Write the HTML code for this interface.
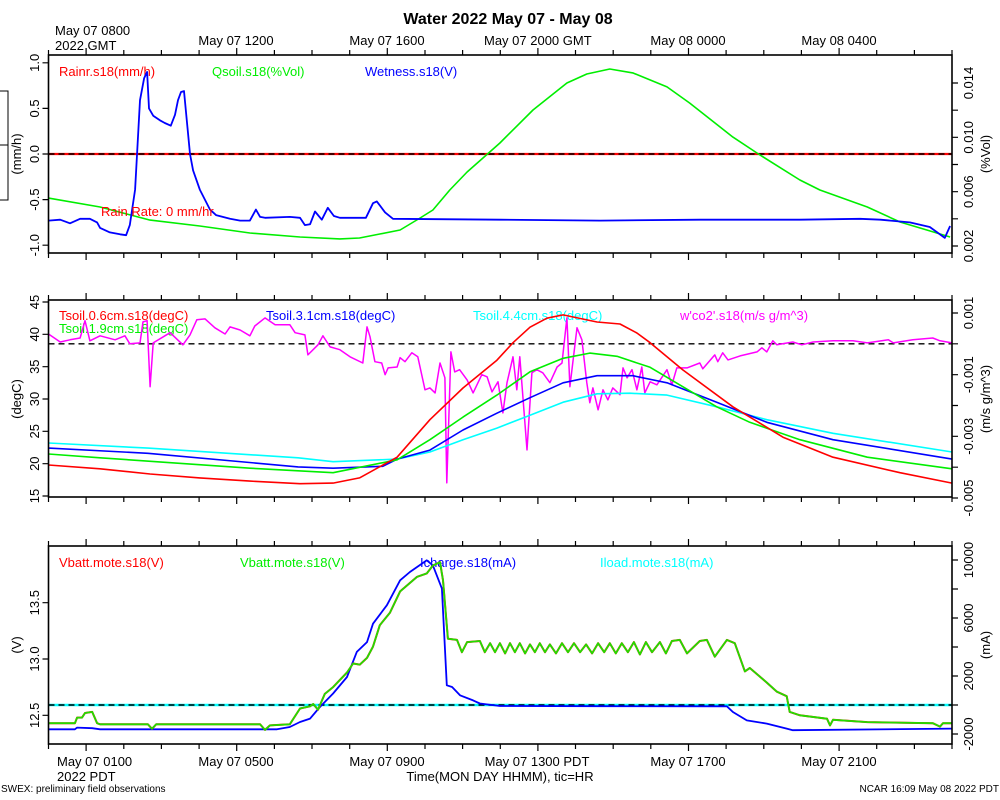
<!DOCTYPE html>
<html><head><meta charset="utf-8"><title>Water 2022 May 07 - May 08</title>
<style>
html,body{margin:0;padding:0;background:#fff;}
svg{display:block;font-family:"Liberation Sans",Arial,sans-serif;}
</style></head>
<body>
<svg id="chart" xmlns="http://www.w3.org/2000/svg" width="1000" height="800" viewBox="0 0 1000 800">
<rect x="0" y="0" width="1000" height="800" fill="#fff"/>
<text x="508" y="24" text-anchor="middle" font-size="16" font-weight="bold">Water 2022 May 07 - May 08</text>
<text x="55" y="35" font-size="13">May 07 0800</text>
<text x="55" y="50" font-size="13">2022 GMT</text>
<text x="236" y="45" text-anchor="middle" font-size="13">May 07 1200</text>
<text x="387" y="45" text-anchor="middle" font-size="13">May 07 1600</text>
<text x="484" y="45" font-size="13">May 07 2000 GMT</text>
<text x="688" y="45" text-anchor="middle" font-size="13">May 08 0000</text>
<text x="839" y="45" text-anchor="middle" font-size="13">May 08 0400</text>
<text x="57" y="766" font-size="13">May 07 0100</text>
<text x="57" y="781" font-size="13">2022 PDT</text>
<text x="236" y="766" text-anchor="middle" font-size="13">May 07 0500</text>
<text x="387" y="766" text-anchor="middle" font-size="13">May 07 0900</text>
<text x="537" y="766" text-anchor="middle" font-size="13">May 07 1300 PDT</text>
<text x="688" y="766" text-anchor="middle" font-size="13">May 07 1700</text>
<text x="839" y="766" text-anchor="middle" font-size="13">May 07 2100</text>
<text x="500" y="781" text-anchor="middle" font-size="13">Time(MON DAY HHMM), tic=HR</text>
<text x="1" y="792" font-size="10">SWEX: preliminary field observations</text>
<text x="999" y="792" text-anchor="end" font-size="10">NCAR 16:09 May 08 2022 PDT</text>
<path d="M0 91 H8 V200 H0 M0 145 H8" fill="none" stroke="#000" stroke-width="1"/>

<text x="59" y="76" font-size="13" fill="#ff0000">Rainr.s18(mm/h)</text>
<text x="212" y="76" font-size="13" fill="#00ee00">Qsoil.s18(%Vol)</text>
<text x="365" y="76" font-size="13" fill="#0000ff">Wetness.s18(V)</text>
<text x="59" y="320" font-size="13" fill="#ff0000">Tsoil.0.6cm.s18(degC)</text>
<text x="59" y="333" font-size="13" fill="#00ee00">Tsoil.1.9cm.s18(degC)</text>
<text x="266" y="320" font-size="13" fill="#0000ff">Tsoil.3.1cm.s18(degC)</text>
<text x="473" y="320" font-size="13" fill="#00ffff">Tsoil.4.4cm.s18(degC)</text>
<text x="680" y="320" font-size="13" fill="#ff00ff">w'co2'.s18(m/s g/m^3)</text>
<text x="59" y="567" font-size="13" fill="#ff0000">Vbatt.mote.s18(V)</text>
<text x="240" y="567" font-size="13" fill="#00ee00">Vbatt.mote.s18(V)</text>
<text x="420" y="567" font-size="13" fill="#0000ff">Icharge.s18(mA)</text>
<text x="600" y="567" font-size="13" fill="#00ffff">Iload.mote.s18(mA)</text>
</svg>
<script>
// ---- data (hours since May 07 0000 PDT) ----
const rainT = [0, 24];
const rainV = [0, 0];
const wetT = [0,0.31,0.57,0.84,1.10,1.29,1.37,1.63,1.90,2.06,2.16,2.30,2.43,2.54,2.62,2.67,2.78,2.96,3.09,3.25,3.36,3.44,3.52,3.60,3.76,3.84,4.02,4.29,4.45,4.82,5.09,5.35,5.51,5.62,5.75,6.41,6.68,6.81,6.95,7.08,7.26,7.42,7.58,7.74,8.43,8.62,8.72,8.94,9.15,11.99,14.65,17.31,19.96,21.56,22.10,22.88,23.41,23.81,23.95];
const wetV = [-0.73,-0.72,-0.76,-0.71,-0.71,-0.75,-0.81,-0.86,-0.88,-0.89,-0.78,-0.39,0.59,0.83,0.90,0.50,0.42,0.37,0.34,0.31,0.43,0.59,0.68,0.69,0.0,-0.18,-0.39,-0.61,-0.67,-0.71,-0.73,-0.73,-0.61,-0.69,-0.70,-0.69,-0.70,-0.78,-0.77,-0.63,-0.72,-0.59,-0.68,-0.70,-0.70,-0.54,-0.52,-0.64,-0.71,-0.72,-0.73,-0.72,-0.72,-0.71,-0.72,-0.75,-0.80,-0.92,-0.79];
const qsT = [0,1.37,2.70,4.02,5.35,6.68,7.74,8.26,8.80,9.34,9.87,10.21,10.66,11.12,11.57,11.99,12.87,13.77,14.30,14.91,15.52,16.43,17.03,18.18,18.90,19.96,20.49,21.75,22.62,23.33,23.95];
const qsV = [0.00553,0.00487,0.00391,0.00347,0.00296,0.00266,0.00252,0.00259,0.00288,0.00318,0.00406,0.00465,0.00612,0.00745,0.00855,0.00958,0.01201,0.01400,0.01466,0.01503,0.01474,0.01371,0.01253,0.01002,0.00870,0.00686,0.00612,0.00487,0.00377,0.00318,0.00266];

const t06T = [0,1.37,2.70,4.02,5.35,6.68,7.56,8.26,9.26,10.13,11.01,11.91,12.34,12.79,13.24,13.67,14.57,15.18,15.63,15.98,16.85,18.18,19.51,20.84,22.62,24.0];
const t06V = [19.8,19.2,18.4,17.8,17.3,16.9,17.0,17.8,21.0,26.8,31.7,36.0,38.7,41.1,42.5,43.0,41.9,41.6,40.2,38.7,34.5,28.8,24.1,21.0,18.6,17.0];
const t19T = [0,1.37,5.35,7.56,9.26,10.13,11.01,11.91,12.79,13.67,14.38,15.10,15.98,16.85,17.75,18.63,19.96,21.75,24.0];
const t19V = [21.5,20.9,19.3,18.6,20.6,23.7,27.2,30.6,34.2,36.3,37.1,36.6,34.9,31.9,28.8,26.4,23.7,21.0,19.2];
const t31T = [0,2.64,6.63,7.56,8.88,9.26,10.13,11.01,11.91,12.79,13.67,14.57,15.52,16.43,17.75,19.08,20.84,24.0];
const t31V = [22.4,21.6,19.5,19.3,19.6,20.7,22.1,25.2,27.8,30.2,32.5,33.6,33.6,32.5,29.5,26.4,23.7,20.7];
const t44T = [0,2.64,6.63,7.56,9.26,10.13,11.01,11.91,12.79,13.67,14.57,15.44,16.43,17.75,19.08,20.84,24.0];
const t44V = [23.2,22.4,20.9,20.3,20.7,21.8,23.7,25.5,27.5,29.5,30.8,30.9,30.6,28.8,26.8,24.7,21.8];
// w'co2' in units of 0.001 m/s g/m^3
const co2T = [0,0.31,0.57,0.84,0.97,1.10,1.37,1.77,2.03,2.16,2.43,2.51,2.62,2.70,2.78,3.23,3.57,3.76,3.94,4.16,4.42,4.69,4.82,5.09,5.35,5.48,5.75,6.02,6.41,6.55,6.81,6.89,7.16,7.29,7.48,7.74,8.01,8.35,8.46,8.54,8.67,8.85,8.94,9.02,9.26,9.34,9.47,9.65,9.81,10.0,10.13,10.27,10.40,10.53,10.58,10.69,10.79,10.92,11.12,11.28,11.51,11.65,11.78,11.94,12.07,12.18,12.34,12.44,12.52,12.71,12.84,12.97,13.13,13.32,13.51,13.64,13.77,13.85,14.04,14.17,14.30,14.38,14.46,14.60,14.73,14.86,14.99,15.18,15.26,15.37,15.50,15.63,15.76,15.84,15.98,16.16,16.43,16.56,16.69,16.96,17.30,17.38,17.70,17.78,17.91,18.05,18.37,18.82,18.95,19.08,19.24,19.35,19.77,20.01,20.31,20.84,21.37,21.75,22.31,22.44,22.96,23.49,23.68,24.0];
const co2V = [0.32,0.06,0.13,0.19,0.75,0.10,0.26,0.13,0.26,0,0.03,0.71,0.75,-1.39,0.03,0.36,-0.03,0.29,0.78,0.81,0.52,0.32,0.55,0.45,0.26,0.58,0.84,0.62,0.62,0.36,0.29,-0.36,-0.03,0.26,-0.10,-0.19,-0.42,-0.62,0.55,0.23,-0.58,-0.62,-1.00,-0.78,-0.75,-0.45,-0.58,-0.29,-0.42,-1.49,-1.43,-1.59,-0.62,-1.10,-4.51,-0.26,-0.91,-0.84,-1.17,-1.59,-1.00,-1.07,-1.56,-1.23,-2.24,-1.26,-0.42,-1.49,-0.42,-3.44,-0.94,-0.84,-0.94,-1.26,-0.75,-0.62,0.84,-1.39,0.52,0.13,-1.26,-1.91,-1.43,-2.14,-1.49,-1.82,-1.43,-1.65,-0.78,-1.10,-0.84,-1.49,-0.75,-1.59,-1.23,-1.33,-0.84,-1.33,-0.78,-0.78,-0.62,-0.81,-0.36,-0.58,-0.29,-0.52,-0.39,-0.26,-0.13,-0.26,0.10,-0.03,0.06,-0.03,0.06,0.10,0.10,0.03,0.13,0.03,0.13,0.19,0.10,0.03];

const vbT = [0,0.70,0.76,0.89,0.97,1.16,1.29,1.37,2.64,2.75,2.86,5.62,5.75,5.88,6.41,6.68,6.95,7.03,7.16,7.34,7.56,7.93,8.09,8.27,8.46,8.62,8.80,9.07,9.34,9.79,10.05,10.21,10.40,10.48,10.61,10.85,10.98,11.12,11.46,11.59,11.73,11.86,11.99,12.13,12.26,12.39,12.52,12.66,12.79,12.92,13.05,13.19,13.32,13.48,13.64,13.80,13.96,14.12,14.28,14.44,14.60,14.76,14.91,15.07,15.23,15.39,15.55,15.71,15.87,16.03,16.24,16.40,16.56,16.77,16.96,17.30,17.49,17.70,18.02,18.23,18.50,18.63,19.08,19.35,19.61,19.69,19.96,20.68,20.76,20.84,21.75,23.49,23.68,23.76,24.0];
const vbV = [12.43,12.43,12.48,12.48,12.52,12.53,12.43,12.42,12.42,12.38,12.42,12.42,12.37,12.41,12.42,12.56,12.58,12.60,12.55,12.69,12.75,12.88,12.96,12.95,13.01,13.11,13.30,13.41,13.60,13.73,13.76,13.83,13.86,13.70,13.18,13.17,13.06,13.15,13.16,13.06,13.14,13.06,13.14,13.05,13.14,13.06,13.14,13.05,13.13,13.06,13.14,13.06,13.13,13.05,13.14,13.06,13.14,13.06,13.13,13.05,13.14,13.06,13.14,13.05,13.14,13.06,13.15,13.04,13.15,13.06,13.15,13.05,13.16,13.17,13.05,13.16,13.17,13.02,13.17,13.14,12.89,12.92,12.79,12.71,12.67,12.53,12.50,12.47,12.41,12.46,12.44,12.43,12.40,12.43,12.43];
const icT = [0,0.70,0.76,1.16,1.37,6.07,6.41,6.68,6.95,7.21,7.56,7.93,8.19,8.46,8.62,8.99,9.34,9.60,10.05,10.21,10.45,10.58,10.72,10.93,11.28,11.46,11.99,14.65,18.02,18.18,18.55,19.08,19.61,19.77,24.0];
const icV = [-1676,-1676,-1560,-1600,-1676,-1676,-1520,-1170,-940,-140,790,1930,3660,4340,5610,6880,8600,9170,9980,9630,8030,1360,1240,670,320,100,-70,-80,-90,-480,-1060,-1280,-1630,-1740,-1630];
const ilT = [0, 24];
const ilV = [0, 0];

const p1LeftTicks = [-1.0,-0.5,0.0,0.5,1.0];
const p1LeftLabels = ["-1.0","-0.5","0.0","0.5","1.0"];
const p1RightTicks = [0.002,0.004,0.006,0.008,0.010,0.012,0.014];
const p1RightLabels = ["0.002","","0.006","","0.010","","0.014"];
const p2LeftTicks = [15,20,25,30,35,40,45];
const p2LeftLabels = ["15","20","25","30","35","40","45"];
const p2RightTicks = [-5,-4,-3,-2,-1,0,1];
const p2RightLabels = ["-0.005","","-0.003","","-0.001","","0.001"];
const p3LeftTicks = [12.5,13.0,13.5];
const p3LeftLabels = ["12.5","13.0","13.5"];
const p3RightTicks = [-2000,0,2000,4000,6000,8000,10000];
const p3RightLabels = ["-2000","","2000","","6000","","10000"];

// ---- scales ----
const X0 = 48.5, X1 = 952;
const xs = h => X0 + h * (X1 - X0) / 24;
function lin(d0, d1, r0, r1) { return v => r0 + (v - d0) * (r1 - r0) / (d1 - d0); }
const panels = [
  {id:'water', top:55, bot:253, yl:lin(-1,1,245.2,62.8), yr:lin(0.002,0.014,246,83)},
  {id:'soil-temp', top:300, bot:497, yl:lin(15,45,496,302), yr:lin(-5,1,498,313)},
  {id:'power', top:546, bot:744, yl:lin(12.5,13.5,715.3,602.7), yr:lin(-2000,10000,734,560)}
];
const svg = document.getElementById('chart');
const NS = 'http://www.w3.org/2000/svg';
function mk(tag, parent) { const e = document.createElementNS(NS, tag); (parent || svg).appendChild(e); return e; }

function series(T, V, ys, color, name, width) {
  let d = '';
  for (let i = 0; i < T.length; i++) d += (i ? 'L' : 'M') + xs(T[i]).toFixed(1) + ' ' + ys(V[i]).toFixed(1);
  const p = mk('path');
  p.setAttribute('d', d);
  p.setAttribute('fill', 'none');
  p.setAttribute('stroke', color);
  p.setAttribute('stroke-width', width || 1.6);
  p.setAttribute('stroke-linejoin', 'round');
  
  
  return p;
}
function dashed(y, name) {
  const l = mk('line');
  l.setAttribute('x1', X0); l.setAttribute('x2', X1);
  l.setAttribute('y1', y); l.setAttribute('y2', y);
  l.setAttribute('stroke', '#000'); l.setAttribute('stroke-width', 1.4);
  l.setAttribute('stroke-dasharray', '6 4');
  
  
}
function vlabel(x, y, txt, name, size) {
  const t = mk('text');
  t.setAttribute('x', x); t.setAttribute('y', y);
  t.setAttribute('text-anchor', 'middle');
  t.setAttribute('font-size', size || 13);
  t.setAttribute('transform', 'rotate(-90 ' + x + ' ' + y + ')');
  t.textContent = txt;
  
  
}

// ---- frames, ticks ----
panels.forEach(P => {
  let d = '';
  for (let h = 0; h <= 24; h++) {
    const x = xs(h).toFixed(1);
    const L = ((h - 1) % 4 === 0) ? 7 : 5;
    d += 'M' + x + ' ' + P.top + 'V' + (P.top - L) + 'M' + x + ' ' + P.bot + 'V' + (P.bot + L);
  }
  const tk = mk('path');
  tk.setAttribute('d', d); tk.setAttribute('stroke', '#000'); tk.setAttribute('stroke-width', 1.2);
  
  
});

function yAxis(P, ticks, labels, side, scale, prefix) {
  let d = '';
  ticks.forEach((v, i) => {
    const y = scale(v).toFixed(1);
    if (side === 'left') d += 'M' + X0 + ' ' + y + 'H' + (X0 - 6);
    else d += 'M' + X1 + ' ' + y + 'H' + (X1 + 6);
    if (labels[i]) vlabel(side === 'left' ? 39 : 973, +y, labels[i], prefix + '-tick-label');
  });
  const tk = mk('path');
  tk.setAttribute('d', d); tk.setAttribute('stroke', '#000'); tk.setAttribute('stroke-width', 1.2);
  
  
}
yAxis(panels[0], p1LeftTicks, p1LeftLabels, 'left', panels[0].yl, 'water-left-axis');
yAxis(panels[0], p1RightTicks, p1RightLabels, 'right', panels[0].yr, 'water-right-axis');
yAxis(panels[1], p2LeftTicks, p2LeftLabels, 'left', panels[1].yl, 'temp-left-axis');
yAxis(panels[1], p2RightTicks, p2RightLabels, 'right', panels[1].yr, 'co2-right-axis');
yAxis(panels[2], p3LeftTicks, p3LeftLabels, 'left', panels[2].yl, 'volt-left-axis');
yAxis(panels[2], p3RightTicks, p3RightLabels, 'right', panels[2].yr, 'current-right-axis');
vlabel(21, 154, '(mm/h)', 'water-left-axis-title');
vlabel(990, 154, '(%Vol)', 'water-right-axis-title');
vlabel(21, 399, '(degC)', 'temp-left-axis-title');
vlabel(990, 399, '(m/s g/m^3)', 'co2-right-axis-title');
vlabel(21, 645, '(V)', 'volt-left-axis-title');
vlabel(990, 645, '(mA)', 'current-right-axis-title');

// ---- panel 1 ----
const P1 = panels[0];
series(rainT, rainV, P1.yl, '#ff0000', 'rainr-line', 2.2);
dashed(P1.yl(0), 'water-zero-line');
series(qsT, qsV, P1.yr, '#00ee00', 'qsoil-line');
series(wetT, wetV, P1.yl, '#0000ff', 'wetness-line', 1.8);
const rr = mk('text');
rr.setAttribute('x', 101); rr.setAttribute('y', 216); rr.setAttribute('font-size', 13); rr.setAttribute('fill', '#ff0000');
rr.textContent = 'Rain Rate: 0 mm/hr';



// ---- panel 2 ----
const P2 = panels[1];
dashed(P2.yr(0), 'co2-zero-line');
series(co2T, co2V, P2.yr, '#ff00ff', 'wco2-line', 1.5);
series(t44T, t44V, P2.yl, '#00ffff', 'tsoil-4-4-line');
series(t31T, t31V, P2.yl, '#0000ff', 'tsoil-3-1-line');
series(t19T, t19V, P2.yl, '#00ee00', 'tsoil-1-9-line');
series(t06T, t06V, P2.yl, '#ff0000', 'tsoil-0-6-line');

// ---- panel 3 ----
const P3 = panels[2];
series(ilT, ilV, P3.yr, '#00ffff', 'iload-line', 2.4);
dashed(P3.yr(0), 'current-zero-line');
series(icT, icV, P3.yr, '#0000ff', 'icharge-line', 1.8);
series(vbT, vbV, P3.yl, '#ff0000', 'vbatt-red-line', 2);
series(vbT, vbV, P3.yl, '#22dd00', 'vbatt-green-line', 1.8);

// frames on top
panels.forEach(P => {
  const r = mk('rect');
  r.setAttribute('x', X0); r.setAttribute('y', P.top);
  r.setAttribute('width', X1 - X0); r.setAttribute('height', P.bot - P.top);
  r.setAttribute('fill', 'none'); r.setAttribute('stroke', '#000'); r.setAttribute('stroke-width', 1.6);
  
  
});
</script>
</body></html>
